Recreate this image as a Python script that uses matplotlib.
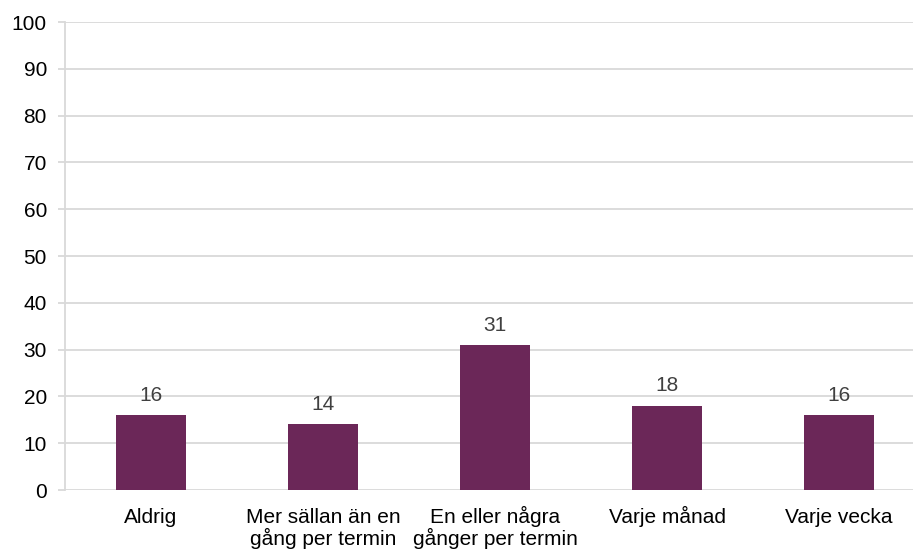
import matplotlib

matplotlib.use("Agg")
import matplotlib.pyplot as plt
from matplotlib.transforms import ScaledTranslation, blended_transform_factory

plt.rcParams["font.family"] = ["Liberation Sans", "DejaVu Sans"]

categories = [
    "Aldrig",
    "Mer sällan än en\ngång per termin",
    "En eller några\ngånger per termin",
    "Varje månad",
    "Varje vecka",
]
values = [16, 14, 31, 18, 16]
yticks = list(range(0, 101, 10))

BAR = "#6b2758"
GRID = "#d9d9d9"

fig = plt.figure(figsize=(9.13, 5.5), dpi=100)
ax = fig.add_axes([65 / 913, 60 / 550, 848 / 913, 468 / 550])

x = list(range(len(categories)))
bars = ax.bar(x, values, width=0.41, color=BAR, zorder=3)
for b, v in zip(bars, values):
    ax.text(b.get_x() + b.get_width() / 2, v + 2.2, str(v), ha="center",
            va="bottom", fontsize=15, color="#404040")

ax.set_xlim(-0.5, -0.5 + 848 / 172)
ax.set_ylim(0, 100)
ax.set_yticks(yticks)
ax.yaxis.grid(True, color=GRID, linewidth=1.3, zorder=0)
ax.set_xticks(x)
ax.set_xticklabels([])
ax.tick_params(axis="x", length=0)
ax.tick_params(axis="y", length=5, color=GRID, width=1.3, labelsize=15, pad=8)
for s in ("top", "right", "bottom"):
    ax.spines[s].set_visible(False)
ax.spines["left"].set_color(GRID)
ax.spines["left"].set_linewidth(1.3)

# category labels, one line at a time so baselines line up
base = blended_transform_factory(ax.transData, ax.transAxes)
for xi, lab in zip(x, categories):
    for i, line in enumerate(lab.split("\n")):
        off = ScaledTranslation(0, -(33 + 22 * i) / 100, fig.dpi_scale_trans)
        ax.text(xi, 0, line, ha="center", va="baseline", fontsize=15,
                transform=base + off)

fig.savefig("out.png", dpi=100)
